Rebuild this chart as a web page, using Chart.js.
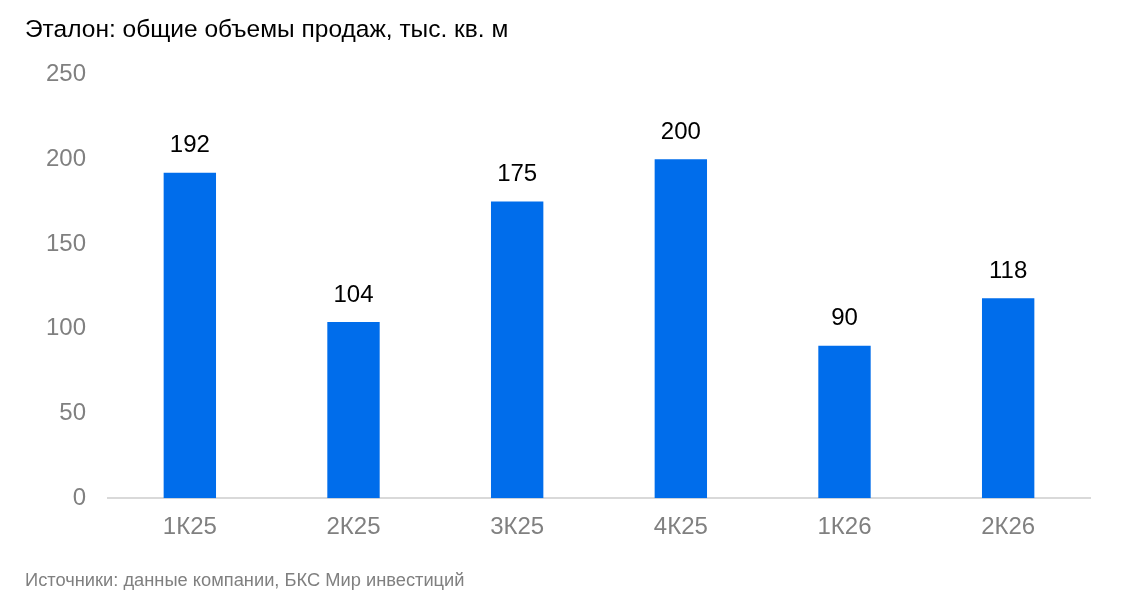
<!DOCTYPE html>
<html>
<head>
<meta charset="utf-8">
<script src="https://cdn.jsdelivr.net/npm/chart.js@4.4.1/dist/chart.umd.min.js"></script>
<style>
  html, body { margin: 0; padding: 0; background: #fff; }
  #wrap { width: 1123px; height: 608px; }
</style>
</head>
<body>
<div id="wrap"><canvas id="barChart"></canvas></div>
<script>
var categories = ["1К25", "2К25", "3К25", "4К25", "1К26", "2К26"];
var sales = [192, 104, 175, 200, 90, 118];
var yTicks = [0, 50, 100, 150, 200, 250];

var titleText = "Эталон: общие объемы продаж, тыс. кв. м";
var sourceText = "Источники: данные компании, БКС Мир инвестиций";

var fontFam = '"Liberation Sans", Arial, sans-serif';

// подписи значений над столбцами
var barLabels = {
    id: 'barLabels',
    afterDatasetsDraw: function(chart) {
        var ctx = chart.ctx;
        var meta = chart.getDatasetMeta(0);
        ctx.save();
        ctx.font = '24px ' + fontFam;
        ctx.fillStyle = '#000';
        ctx.textAlign = 'center';
        ctx.textBaseline = 'middle';
        meta.data.forEach(function(bar, i) {
            ctx.fillText(chart.data.datasets[0].data[i], bar.x, bar.y - 27);
        });
        ctx.restore();
    }
};

var ctxB = document.getElementById('barChart');
var myBarChart = new Chart(ctxB, {
    type: 'bar',
    data: {
        labels: categories,
        datasets: [{
            data: sales,
            backgroundColor: '#006DEB',
            categoryPercentage: 1,
            barPercentage: 0.32
        }]
    },
    options: {
        responsive: true,
        maintainAspectRatio: false,
        animation: false,
        layout: { padding: { left: 25, right: 33, top: 0, bottom: 0 } },
        plugins: {
            legend: { display: false },
            tooltip: { enabled: false },
            title: {
                display: true,
                text: titleText,
                align: 'start',
                color: '#000',
                font: { family: fontFam, size: 24.5, weight: 'normal' },
                padding: { top: 16, bottom: 29 }
            },
            subtitle: {
                display: true,
                position: 'bottom',
                text: sourceText,
                align: 'start',
                color: '#808080',
                font: { family: fontFam, size: 18.3 },
                padding: { top: 13, bottom: 16 }
            }
        },
        scales: {
            x: {
                grid: { display: false, drawTicks: false },
                border: { display: true, color: '#d9d9d9', width: 2 },
                ticks: {
                    color: '#808080',
                    padding: 15,
                    font: { family: fontFam, size: 24 }
                }
            },
            y: {
                min: 0,
                max: 250,
                afterFit: function(scale) { scale.width = 83; },
                afterBuildTicks: function(scale) {
                    scale.ticks = yTicks.map(function(v) { return { value: v }; });
                },
                grid: { display: false, drawTicks: false },
                border: { display: false },
                ticks: {
                    color: '#808080',
                    padding: 22,
                    font: { family: fontFam, size: 24 }
                }
            }
        }
    },
    plugins: [barLabels]
});
</script>
</body>
</html>
